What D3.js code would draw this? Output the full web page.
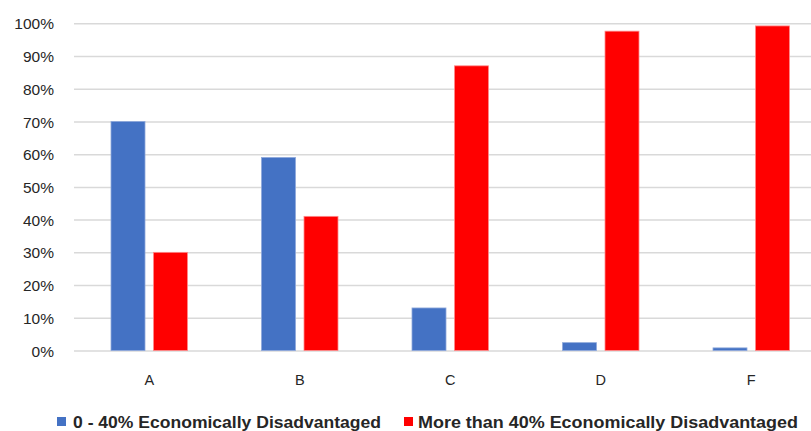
<!DOCTYPE html>
<html>
<head>
<meta charset="utf-8">
<script src="https://cdn.jsdelivr.net/npm/d3@7"></script>
<style>
  html, body { margin: 0; padding: 0; background: #fff; }
  svg { display: block; }
  text { font-family: "Liberation Sans", Arial, sans-serif; fill: #262626; }
</style>
</head>
<body>
<svg id="chart" width="811" height="431"></svg>
<script>
// School grades by share of economically disadvantaged students
const categories = ["A", "B", "C", "D", "F"];
const seriesNames = ["0 - 40% Economically Disadvantaged", "More than 40% Economically Disadvantaged"];
const lowShare  = [0.70, 0.59, 0.13, 0.024, 0.008];
const highShare = [0.30, 0.41, 0.87, 0.976, 0.992];
const seriesColors = ["#4472C4", "#FF0000"];
const seriesEdges = ["#8EA9DB", "#FF8A8A"];
const yTicks = [0, 0.1, 0.2, 0.3, 0.4, 0.5, 0.6, 0.7, 0.8, 0.9, 1.0];

const svg = d3.select("#chart");
const W = 811, H = 431;

const y = d3.scaleLinear().domain([0, 1]).range([350.5, 23.3]);
const x0 = d3.scaleBand().domain(categories).range([74, 826.5]).padding(0);
const groupW = 76.5;
const x1 = d3.scaleBand().domain([0, 1]).range([-groupW / 2, groupW / 2]).paddingInner(0.2).paddingOuter(0);

// Gridlines and percentage labels
const yAxis = d3.axisLeft(y).tickValues(yTicks).tickSize(-(W - 74)).tickFormat(d3.format(".0%"));
const gy = svg.append("g").attr("transform", "translate(74,0)").call(yAxis);
gy.select(".domain").remove();
gy.selectAll(".tick line").attr("stroke", "#d9d9d9").attr("stroke-width", 1.5);
gy.selectAll(".tick text")
  .attr("x", -20)
  .attr("dy", "0.36em")
  .style("font-size", "15.5px")
  .style("font-family", "'Liberation Sans', Arial, sans-serif")
  .attr("fill", "#1f1f1f");

// Bars
const data = categories.map((c, i) => ({ cat: c, vals: [lowShare[i], highShare[i]] }));
const groups = svg.append("g").selectAll("g")
  .data(data).join("g")
  .attr("transform", d => `translate(${x0(d.cat) + x0.bandwidth() / 2},0)`);

groups.selectAll("rect")
  .data(d => d.vals.map((v, s) => ({ v, s })))
  .join("rect")
  .attr("x", d => x1(d.s))
  .attr("width", x1.bandwidth())
  .attr("y", d => y(d.v))
  .attr("height", d => y(0) - y(d.v))
  .attr("fill", d => seriesColors[d.s])
  .attr("stroke", d => seriesEdges[d.s])
  .attr("stroke-width", 0.8);

// Category axis
const xAxis = d3.axisBottom(x0).tickSize(0).tickPadding(0);
const gx = svg.append("g").attr("transform", "translate(0,350.5)").call(xAxis);
gx.select(".domain").remove();
gx.selectAll(".tick text")
  .attr("y", 34)
  .attr("dy", 0)
  .style("font-size", "14.5px")
  .style("font-family", "'Liberation Sans', Arial, sans-serif")
  .attr("fill", "#404040");

// Legend
const legendItems = [
  { name: seriesNames[0], color: seriesColors[0], sx: 57, tx: 73, w: 308 },
  { name: seriesNames[1], color: seriesColors[1], sx: 404, tx: 418, w: 380 }
];
const lg = svg.append("g");
legendItems.forEach(it => {
  lg.append("rect").attr("x", it.sx).attr("y", 417).attr("width", 9).attr("height", 9).attr("fill", it.color);
  lg.append("text").attr("x", it.tx).attr("y", 428)
    .style("font-size", "17px")
    .style("font-weight", "bold")
    .style("font-family", "'Liberation Sans Narrow', 'Liberation Sans', Arial, sans-serif")
    .attr("textLength", it.w)
    .attr("lengthAdjust", "spacingAndGlyphs")
    .attr("fill", "#262626")
    .text(it.name);
});
</script>
</body>
</html>
